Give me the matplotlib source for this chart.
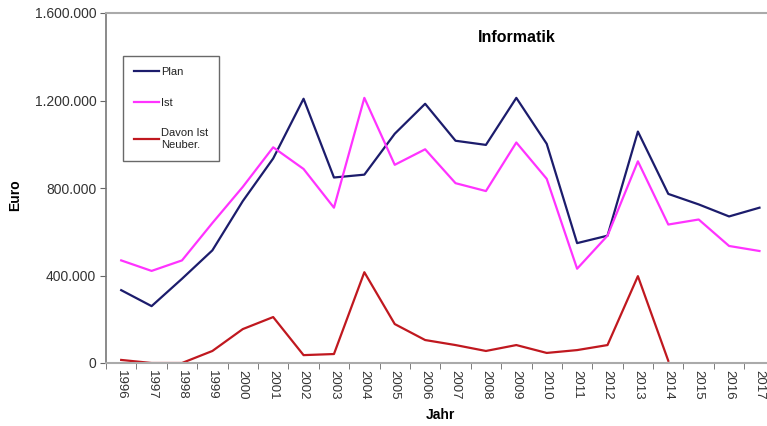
import matplotlib
matplotlib.use("Agg")
import matplotlib.pyplot as plt
import numpy as np

years = [str(y) for y in range(1996, 2018)]
plan = [333000, 260000, 385000, 515000, 740000, 935000, 1208000, 848000, 861000, 1048000, 1185000,
        1016000, 997000, 1212000, 1002000, 548000, 582000, 1058000, 773000, 725000, 670000, 710000]
ist = [469000, 421000, 469000, 640000, 805000, 986000, 887000, 710000, 1212000, 906000, 977000,
       822000, 786000, 1008000, 842000, 431000, 582000, 922000, 633000, 656000, 535000, 512000]
neuber = [14000, 0, 0, 55000, 155000, 210000, 36000, 41000, 415000, 178000, 105000,
          82000, 55000, 82000, 46000, 59000, 82000, 397000, 10000, None, None, None]
y_ticks = [0, 400000, 800000, 1200000, 1600000]
y_labels = ["0", "400.000", "800.000", "1.200.000", "1.600.000"]

plt.rcParams["font.family"] = ["Liberation Sans", "DejaVu Sans"]

fig = plt.figure(figsize=(7.67, 4.26), dpi=100)
ax = fig.add_axes([106 / 767, 1 - 363 / 426, 1 - 106 / 767 + 0.01, (363 - 13) / 426])

x = np.arange(len(years))
neu = np.array([np.nan if v is None else v for v in neuber], dtype=float)
ax.plot(x, plan, color="#1c1c6c", lw=1.6, label="Plan")
ax.plot(x, ist, color="#ff33ff", lw=1.6, label="Ist")
ax.plot(x, neu, color="#c0181f", lw=1.6, label="Davon Ist\nNeuber.")

ax.set_xlim(-0.5, len(years) - 0.5)
ax.set_ylim(0, 1600000)
ax.set_yticks(y_ticks)
ax.set_yticklabels(y_labels, fontsize=10, color="#333333")
ax.set_xticks(x)
ax.set_xticklabels(years, rotation=-90, fontsize=9.5, color="#333333")
ax.set_xticks(np.arange(-0.5, len(years), 1), minor=True)
ax.tick_params(axis="x", which="major", length=0, pad=5)
ax.tick_params(axis="x", which="minor", length=4, color="#666666", direction="out")
ax.tick_params(axis="y", length=4, color="#666666", direction="out", pad=3)

for s in ["top", "bottom"]:
    ax.spines[s].set_color("#aaaaaa")
    ax.spines[s].set_linewidth(1.5)
ax.spines["left"].set_color("#777777")
ax.spines["left"].set_linewidth(1.2)
ax.spines["right"].set_visible(False)

ax.set_xlabel("Jahr", fontsize=10, fontweight="bold", labelpad=6)
ax.set_ylabel("Euro", fontsize=10, fontweight="bold")
ax.yaxis.set_label_coords(-0.125, 0.48)
ax.text(0.615, 0.93, "Informatik", transform=ax.transAxes, fontsize=11.5,
        fontweight="bold", ha="center", va="center")

leg = ax.legend(loc="upper left", bbox_to_anchor=(0.026, 0.877), fontsize=8,
                frameon=True, fancybox=False, edgecolor="#444444",
                handlelength=2.2, handletextpad=0.2, labelspacing=1.85,
                borderpad=1.0, borderaxespad=0)
leg.get_frame().set_linewidth(1.0)
leg._legend_box.align = "left"
for t in leg.get_texts():
    t.set_color("#222222")

fig.savefig("out.png", dpi=100)
